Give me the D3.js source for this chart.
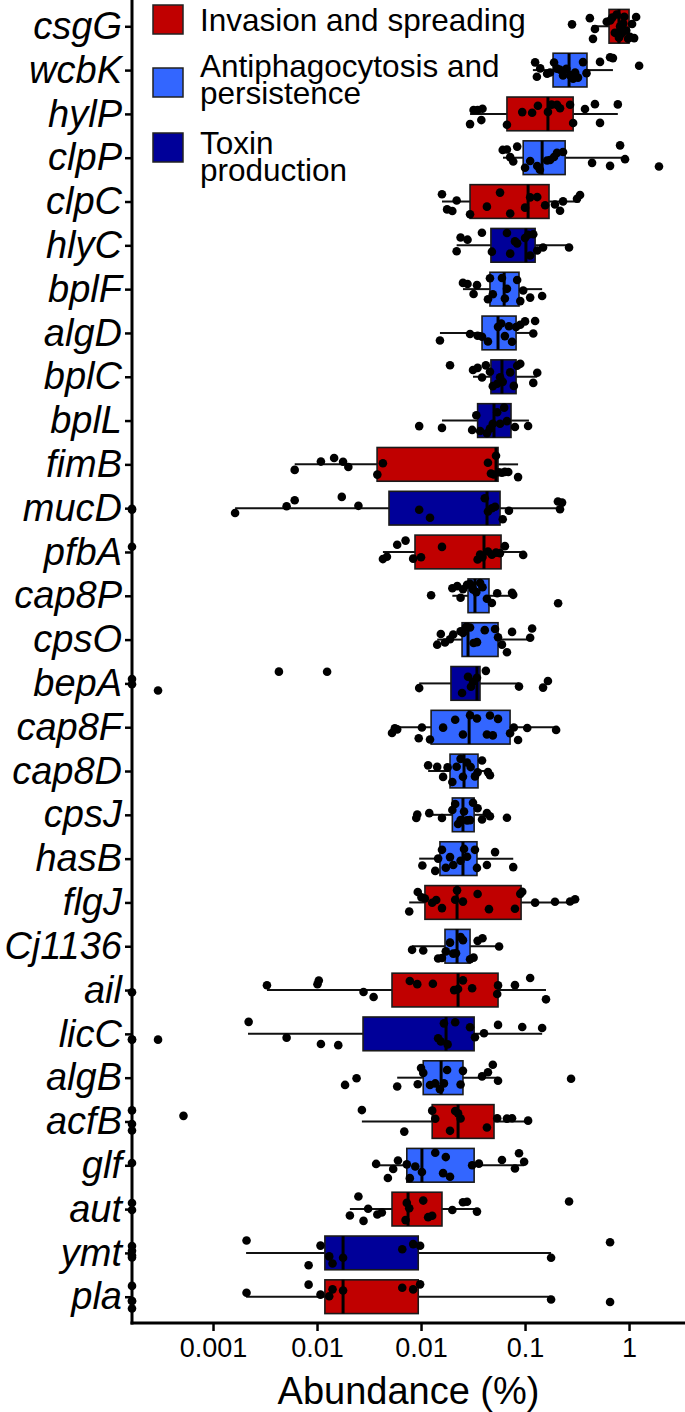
<!DOCTYPE html>
<html>
<head>
<meta charset="utf-8">
<script src="https://cdn.jsdelivr.net/npm/d3@7.9.0/dist/d3.min.js"></script>
<style>
  body { margin: 0; background: #fff; }
  svg { display: block; font-family: 'Liberation Sans', Arial, sans-serif; }
</style>
</head>
<body>
<svg id="chart" width="685" height="1412"></svg>
<script>
// genes, top to bottom
const genes = ['csgG', 'wcbK', 'hylP', 'clpP', 'clpC', 'hlyC', 'bplF', 'algD', 'bplC', 'bplL',
  'fimB', 'mucD', 'pfbA', 'cap8P', 'cpsO', 'bepA', 'cap8F', 'cap8D', 'cpsJ', 'hasB',
  'flgJ', 'Cj1136', 'ail', 'licC', 'algB', 'acfB', 'glf', 'aut', 'ymt', 'pla'];

const categories = ['Invasion and spreading', 'Antiphagocytosis and|persistence', 'Toxin|production'];
const categoryColors = ['#c00000', '#3366ff', '#000099'];

// index into categories for each gene
const geneCategory = [0, 1, 0, 1, 0, 2, 1, 1, 2, 2, 0, 2, 0, 1, 1, 2, 1, 1, 1, 1, 0, 1, 0, 2, 1, 0, 1, 0, 2, 0];

// box statistics (abundance %)
const whiskerLow = [0.44, 0.119, 0.0296, 0.0614, 0.0159, 0.022, 0.0253, 0.0152, 0.0316, 0.0159,
  0.00061, 0.000163, 0.0043, 0.02, 0.0143, 0.0096, 0.00526, 0.0117, 0.0122, 0.0096,
  0.0077, 0.0082, 0.00033, 0.000217, 0.0059, 0.0027, 0.0037, 0.00207, 0.000208, 0.000208];
const q1 = [0.642, 0.186, 0.067, 0.096, 0.0296, 0.047, 0.046, 0.0386, 0.047, 0.035,
  0.00378, 0.00492, 0.00875, 0.0283, 0.0248, 0.0194, 0.0125, 0.019, 0.02, 0.0152,
  0.0109, 0.017, 0.00526, 0.00277, 0.0105, 0.0128, 0.0073, 0.00526, 0.00119, 0.00119];
const median = [0.80, 0.265, 0.166, 0.146, 0.107, 0.102, 0.063, 0.055, 0.06, 0.0503,
  0.0526, 0.0431, 0.0403, 0.033, 0.0283, 0.0345, 0.029, 0.0259, 0.0253, 0.0253,
  0.0222, 0.0222, 0.0227, 0.0174, 0.0156, 0.0227, 0.0102, 0.0075, 0.00178, 0.00178];
const q3 = [1.0, 0.394, 0.29, 0.243, 0.17, 0.125, 0.0875, 0.082, 0.082, 0.0733,
  0.055, 0.0575, 0.0588, 0.045, 0.055, 0.0369, 0.0718, 0.0353, 0.0324, 0.0345,
  0.0916, 0.0296, 0.055, 0.0324, 0.0253, 0.0503, 0.0324, 0.0159, 0.0094, 0.0094];
const whiskerHigh = [1.12, 0.70, 0.78, 0.915, 0.338, 0.265, 0.146, 0.125, 0.131, 0.109,
  0.0857, 0.227, 0.096, 0.075, 0.117, 0.0875, 0.199, 0.046, 0.046, 0.077,
  0.303, 0.0563, 0.159, 0.146, 0.055, 0.107, 0.098, 0.0345, 0.178, 0.178];

// individual samples per gene (0 = not detected, drawn on the axis)
const abundance = [
  [0.283, 0.42, 0.45, 0.47, 0.61, 0.66, 0.69, 0.73, 0.76, 0.78, 0.82, 0.84, 0.86, 0.90, 0.94, 0.98, 1.02, 1.07, 1.12, 1.17, 0.88, 0.8],
  [0.125, 0.13, 0.14, 0.163, 0.174, 0.19, 0.203, 0.217, 0.232, 0.25, 0.271, 0.29, 0.303, 0.323, 0.361, 0.39, 0.526, 0.657, 0.70, 1.25],
  [0.0296, 0.032, 0.035, 0.038, 0.039, 0.067, 0.094, 0.117, 0.133, 0.166, 0.18, 0.203, 0.217, 0.271, 0.29, 0.377, 0.47, 0.526, 0.78],
  [0.061, 0.067, 0.072, 0.077, 0.084, 0.1, 0.112, 0.131, 0.139, 0.163, 0.174, 0.19, 0.203, 0.232, 0.441, 0.657, 0.82, 0.915, 1.94],
  [0.0159, 0.0178, 0.02, 0.022, 0.0296, 0.043, 0.0575, 0.072, 0.1, 0.112, 0.131, 0.156, 0.194, 0.217, 0.232, 0.316, 0.338],
  [0.022, 0.024, 0.028, 0.0385, 0.048, 0.067, 0.072, 0.08, 0.084, 0.1, 0.107, 0.112, 0.12, 0.131, 0.149, 0.265],
  [0.0253, 0.028, 0.032, 0.0345, 0.044, 0.046, 0.049, 0.06, 0.064, 0.067, 0.084, 0.09, 0.096, 0.112, 0.146],
  [0.0152, 0.0296, 0.035, 0.0386, 0.044, 0.055, 0.059, 0.064, 0.07, 0.075, 0.082, 0.09, 0.1, 0.12, 0.125],
  [0.019, 0.0316, 0.035, 0.0386, 0.042, 0.046, 0.049, 0.054, 0.0575, 0.061, 0.072, 0.078, 0.084, 0.09, 0.12, 0.131],
  [0.0096, 0.0159, 0.031, 0.034, 0.037, 0.043, 0.046, 0.049, 0.054, 0.0575, 0.063, 0.067, 0.08, 0.107],
  [0.00061, 0.00109, 0.00146, 0.00178, 0.002, 0.0038, 0.0043, 0.044, 0.047, 0.05, 0.0526, 0.056, 0.06, 0.064, 0.069, 0.0857],
  [0, 0, 0.000163, 0.00051, 0.00061, 0.00173, 0.0025, 0.0096, 0.0122, 0.041, 0.044, 0.048, 0.0515, 0.061, 0.07, 0.207, 0.217, 0.227],
  [0, 0.0043, 0.0047, 0.0059, 0.0071, 0.0084, 0.01, 0.0159, 0.035, 0.037, 0.039, 0.044, 0.048, 0.0526, 0.0575, 0.064, 0.096],
  [0.0125, 0.02, 0.0223, 0.024, 0.0253, 0.0277, 0.0296, 0.0316, 0.034, 0.037, 0.039, 0.043, 0.048, 0.054, 0.075, 0.077, 0.208],
  [0.0143, 0.0155, 0.017, 0.019, 0.0204, 0.024, 0.0253, 0.027, 0.0296, 0.032, 0.0345, 0.041, 0.0515, 0.055, 0.06, 0.067, 0.075, 0.112, 0.117],
  [0, 0, 2.96e-5, 0.00043, 0.00125, 0.0096, 0.0248, 0.0283, 0.0302, 0.0316, 0.0345, 0.042, 0.0875, 0.149, 0.166],
  [0.00526, 0.0056, 0.0059, 0.0095, 0.0102, 0.0122, 0.0163, 0.0213, 0.0253, 0.0296, 0.0345, 0.043, 0.046, 0.049, 0.055, 0.0718, 0.078, 0.0857, 0.105, 0.199],
  [0.0117, 0.0143, 0.0163, 0.018, 0.02, 0.022, 0.024, 0.0253, 0.0277, 0.03, 0.033, 0.035, 0.0386, 0.044, 0.046],
  [0.009, 0.0092, 0.012, 0.0159, 0.02, 0.0213, 0.0227, 0.024, 0.0259, 0.0277, 0.0296, 0.0316, 0.035, 0.0386, 0.043, 0.046, 0.067],
  [0.0103, 0.0137, 0.0146, 0.0159, 0.0173, 0.019, 0.0204, 0.024, 0.0259, 0.0277, 0.033, 0.0345, 0.043, 0.0515, 0.077],
  [0.0077, 0.0093, 0.0101, 0.0109, 0.0128, 0.014, 0.0159, 0.0213, 0.0222, 0.0253, 0.035, 0.045, 0.08, 0.09, 0.094, 0.125, 0.194, 0.271, 0.303],
  [0.0082, 0.0105, 0.0146, 0.0159, 0.0173, 0.019, 0.0204, 0.0217, 0.024, 0.0253, 0.0296, 0.032, 0.035, 0.039, 0.0563],
  [0, 0.00033, 0.00101, 0.00104, 0.0028, 0.0035, 0.0078, 0.0092, 0.013, 0.0208, 0.0227, 0.0253, 0.031, 0.054, 0.055, 0.08, 0.112, 0.159],
  [0, 0, 2.96e-5, 0.00022, 0.00051, 0.00109, 0.0016, 0.0146, 0.0155, 0.0166, 0.018, 0.0213, 0.0296, 0.033, 0.0403, 0.055, 0.094, 0.146],
  [0.00186, 0.0024, 0.0059, 0.0093, 0.01, 0.0105, 0.0122, 0.0137, 0.0152, 0.0166, 0.0178, 0.024, 0.0253, 0.0386, 0.044, 0.049, 0.055, 0.277],
  [0, 0, 0, 5.2e-5, 0.0027, 0.0069, 0.0128, 0.0137, 0.019, 0.0213, 0.0227, 0.024, 0.043, 0.054, 0.067, 0.075, 0.107],
  [0, 0.0037, 0.0048, 0.0054, 0.006, 0.0073, 0.0078, 0.0088, 0.0102, 0.0137, 0.0163, 0.0173, 0.019, 0.031, 0.036, 0.06, 0.08, 0.0875, 0.098],
  [0, 0, 0.00207, 0.0025, 0.0028, 0.0031, 0.0038, 0.0042, 0.0071, 0.0073, 0.0077, 0.0105, 0.0117, 0.0128, 0.02, 0.0253, 0.0277, 0.0345, 0.265],
  [0, 0, 0, 0, 0.00021, 0.00083, 0.00108, 0.00131, 0.00141, 0.00178, 0.0066, 0.0084, 0.0098, 0.178, 0.657],
  [0, 0, 0, 0, 0.00021, 0.00083, 0.00108, 0.00131, 0.00141, 0.00178, 0.0066, 0.0084, 0.0098, 0.178, 0.657],
];

// x axis ticks (labels as printed on the figure)
const tickValues = [1e-4, 1e-3, 1e-2, 1e-1, 1];
const tickLabels = ['0.001', '0.01', '0.01', '0.1', '1'];

const svg = d3.select('#chart');
const plotLeft = 132, plotRight = 685, plotTop = 0, plotBottom = 1323;

const x = d3.scaleLog()
  .domain([Math.pow(10, -4.779), Math.pow(10, 0.538)])
  .range([plotLeft, plotRight]);

const y = d3.scalePoint()
  .domain(genes)
  .range([plotTop, plotBottom])
  .padding(0.6);

const boxH = y.step() * 0.77;
const xv = v => (v > 0 ? x(v) : plotLeft);

// deterministic vertical jitter for the sample dots
function jitter(i, j) {
  const s = Math.sin((i + 1) * 91.7 + (j + 1) * 17.3) * 10000;
  return ((s - Math.floor(s)) * 2 - 1) * 13;
}

// boxes
const rows = svg.append('g')
  .selectAll('g')
  .data(genes)
  .join('g')
  .attr('transform', d => `translate(0,${y(d)})`);

rows.append('line')
  .attr('x1', (d, i) => x(whiskerLow[i]))
  .attr('x2', (d, i) => x(q1[i]))
  .attr('stroke', '#111')
  .attr('stroke-width', 2);

rows.append('line')
  .attr('x1', (d, i) => x(q3[i]))
  .attr('x2', (d, i) => x(whiskerHigh[i]))
  .attr('stroke', '#111')
  .attr('stroke-width', 2);

rows.append('rect')
  .attr('x', (d, i) => x(q1[i]))
  .attr('y', -boxH / 2)
  .attr('width', (d, i) => x(q3[i]) - x(q1[i]))
  .attr('height', boxH)
  .attr('fill', (d, i) => categoryColors[geneCategory[i]])
  .attr('stroke', '#1a1a1a')
  .attr('stroke-width', 1.6);

rows.append('line')
  .attr('x1', (d, i) => x(median[i]))
  .attr('x2', (d, i) => x(median[i]))
  .attr('y1', -boxH / 2)
  .attr('y2', boxH / 2)
  .attr('stroke', '#000')
  .attr('stroke-width', 3);

// sample points
rows.each(function (d, i) {
  d3.select(this)
    .selectAll('circle')
    .data(abundance[i])
    .join('circle')
    .attr('cx', v => xv(v))
    .attr('cy', (v, j) => jitter(i, j))
    .attr('r', 4.3)
    .attr('fill', '#000');
});

// y axis
const yAxis = svg.append('g')
  .attr('transform', `translate(${plotLeft},0)`)
  .call(d3.axisLeft(y).tickSize(7).tickPadding(3));
yAxis.select('.domain').remove();
yAxis.selectAll('.tick line').attr('stroke', '#000').attr('stroke-width', 2.5);
yAxis.selectAll('.tick text')
  .attr('fill', '#000')
  .style('font-size', '38px')
  .style('font-style', 'italic')
  .style('font-family', "'Liberation Sans', Arial, sans-serif");

// x axis
const xAxis = svg.append('g')
  .attr('transform', `translate(0,${plotBottom})`)
  .call(d3.axisBottom(x)
    .tickValues(tickValues)
    .tickFormat((d, i) => tickLabels[i])
    .tickSize(8)
    .tickPadding(7));
xAxis.select('.domain').remove();
xAxis.selectAll('.tick line').attr('stroke', '#000').attr('stroke-width', 2.5);
xAxis.selectAll('.tick text')
  .attr('fill', '#000')
  .style('font-size', '27px')
  .style('font-family', "'Liberation Sans', Arial, sans-serif");

// axis lines
svg.append('line')
  .attr('x1', plotLeft).attr('x2', plotLeft)
  .attr('y1', plotTop).attr('y2', plotBottom + 1.5)
  .attr('stroke', '#000').attr('stroke-width', 3);
svg.append('line')
  .attr('x1', plotLeft - 1.5).attr('x2', plotRight)
  .attr('y1', plotBottom).attr('y2', plotBottom)
  .attr('stroke', '#000').attr('stroke-width', 3);

svg.append('text')
  .attr('x', (plotLeft + plotRight) / 2)
  .attr('y', 1404)
  .attr('text-anchor', 'middle')
  .style('font-size', '38px')
  .text('Abundance (%)');

// legend
const legendTop = [5, 68, 133];
const legendBase = [31, 77, 154];
const legend = svg.append('g')
  .selectAll('g')
  .data(categories)
  .join('g');

legend.append('rect')
  .attr('x', 153)
  .attr('y', (d, i) => legendTop[i])
  .attr('width', 30)
  .attr('height', 29)
  .attr('fill', (d, i) => categoryColors[i])
  .attr('stroke', '#222')
  .attr('stroke-width', 1.5);

legend.append('text')
  .attr('x', 200)
  .attr('y', (d, i) => legendBase[i])
  .style('font-size', '31.5px')
  .selectAll('tspan')
  .data(d => d.split('|'))
  .join('tspan')
  .attr('x', 200)
  .attr('dy', (d, j) => (j === 0 ? 0 : 26.5))
  .text(d => d);
</script>
</body>
</html>
